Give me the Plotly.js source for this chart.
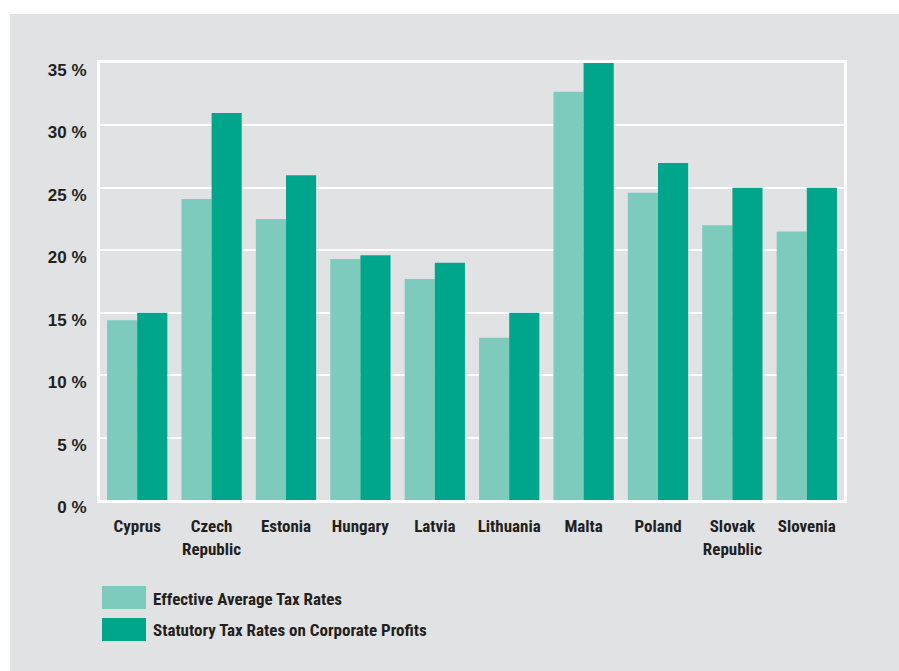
<!DOCTYPE html>
<html>
<head>
<meta charset="utf-8">
<script src="https://cdn.plot.ly/plotly-3.0.1.min.js"></script>
<style>html,body{margin:0;padding:0;background:#fff;}#chart{width:899px;height:671px;}</style>
</head>
<body>
<div id="chart"></div>
<script>
const categories = ["Cyprus", "Czech<br>Republic", "Estonia", "Hungary", "Latvia", "Lithuania", "Malta", "Poland", "Slovak<br>Republic", "Slovenia"];
const effectiveRates = [14.4, 24.1, 22.5, 19.3, 17.7, 13.0, 32.7, 24.6, 22.0, 21.5];
const statutoryRates = [15, 31, 26, 19.6, 19, 15, 35, 27, 25, 25];
const seriesNames = ["Effective Average Tax Rates", "Statutory Tax Rates on Corporate Profits"];
const tickValues = [0, 5, 10, 15, 20, 25, 30, 35];
const tickLabels = ["0 %", "5 %", "10 %", "15 %", "20 %", "25 %", "30 %", "35 %"];

const lightColor = "#7dcbbd";
const darkColor = "#00a68c";
const bgGray = "#e1e2e4";
const textColor = "#231f20";
const narrow = "'Roboto Condensed', Roboto, sans-serif";

const traces = [
  {type: "bar", name: seriesNames[0], x: categories, y: effectiveRates, marker: {color: lightColor, line: {width: 0}}, hoverinfo: "x+y"},
  {type: "bar", name: seriesNames[1], x: categories, y: statutoryRates, marker: {color: darkColor, line: {width: 0}}, hoverinfo: "x+y"}
];

// pixel helpers for paper coords (plot area x:100..844, y:63..500)
const L = 100, R = 844, T = 63, B = 500;
const px = v => (v - L) / (R - L);
const py = v => (B - v) / (B - T);

const shapes = [
  {type: "rect", xref: "paper", yref: "paper", x0: px(10), x1: px(905), y0: py(680), y1: py(14), fillcolor: bgGray, line: {width: 0}, layer: "below"},
  {type: "rect", xref: "paper", yref: "paper", x0: px(102), x1: px(146), y0: py(609), y1: py(586), fillcolor: lightColor, line: {width: 0}},
  {type: "rect", xref: "paper", yref: "paper", x0: px(102), x1: px(146), y0: py(641), y1: py(618), fillcolor: darkColor, line: {width: 0}}
];

const legendFont = {family: narrow, size: 17, color: textColor, weight: "bold", stretch: "condensed"};
const annotations = [
  {xref: "paper", yref: "paper", x: px(151), y: py(599), xanchor: "left", yanchor: "middle", showarrow: false, text: seriesNames[0], font: legendFont},
  {xref: "paper", yref: "paper", x: px(151), y: py(630), xanchor: "left", yanchor: "middle", showarrow: false, text: seriesNames[1], font: legendFont}
];

const layout = {
  width: 899, height: 671,
  margin: {l: L, r: 899 - R, t: T, b: 671 - B, pad: 0},
  paper_bgcolor: "#ffffff",
  plot_bgcolor: bgGray,
  showlegend: false,
  barmode: "group",
  bargap: 0.19,
  bargroupgap: 0,
  xaxis: {
    type: "category",
    showgrid: false,
    showline: true, linecolor: "#ffffff", linewidth: 3, mirror: true,
    ticks: "", ticklabelstandoff: 9,
    tickfont: {family: narrow, size: 17, color: textColor, weight: "bold", stretch: "condensed"},
    tickangle: 0,
    fixedrange: true
  },
  yaxis: {
    range: [0, 35],
    tickvals: tickValues, ticktext: tickLabels,
    showgrid: true, gridcolor: "#ffffff", gridwidth: 2,
    zeroline: false,
    showline: true, linecolor: "#ffffff", linewidth: 3, mirror: true,
    ticks: "", ticklabelstandoff: 7, ticklabelshift: 7,
    tickfont: {family: "'Liberation Sans', Arial, sans-serif", size: 17, color: textColor, weight: "bold"},
    fixedrange: true
  },
  shapes: shapes,
  annotations: annotations
};

Plotly.newPlot("chart", traces, layout, {displayModeBar: false, staticPlot: true});
</script>
</body>
</html>
